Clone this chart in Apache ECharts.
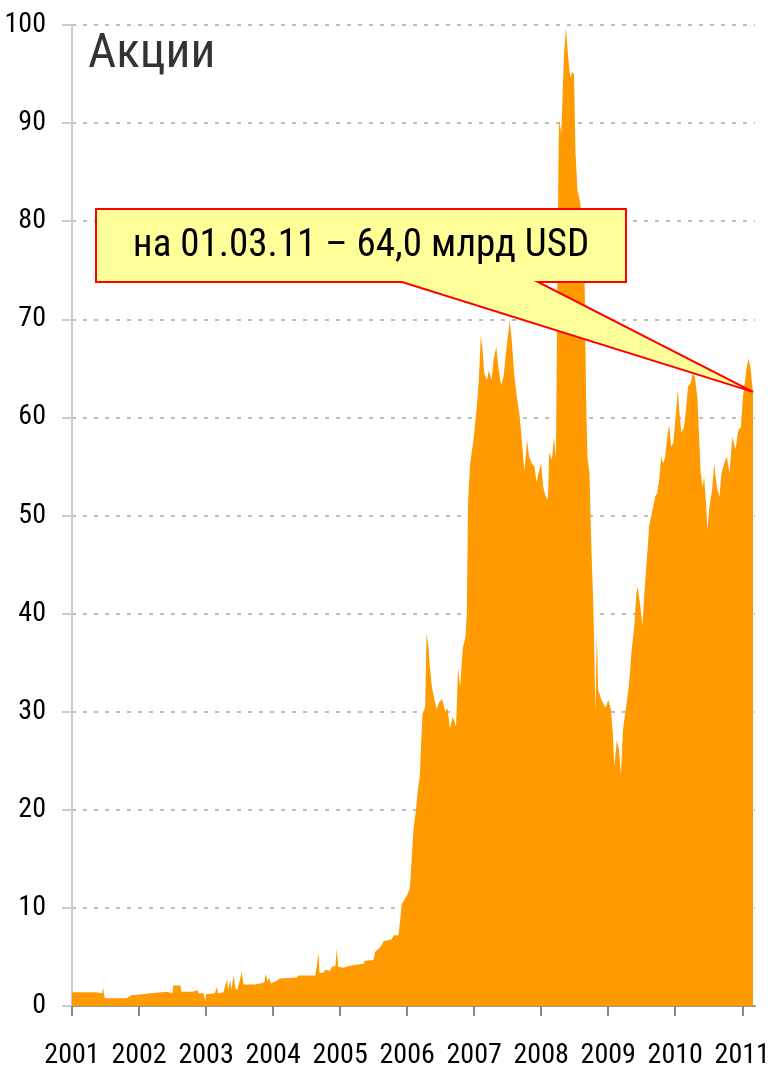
<!DOCTYPE html>
<html>
<head>
<meta charset="utf-8">
<script src="https://cdn.jsdelivr.net/npm/echarts@6/dist/echarts.min.js"></script>
<style>
  html, body { margin: 0; padding: 0; background: #fff; }
  #chart { width: 770px; height: 1071px; }
</style>
</head>
<body>
<div id="chart"></div>
<script>
// годы (дробные) и объём вложений в акции, млрд USD
const years = [
  2001.00, 2001.34, 2001.35, 2001.45, 2001.46, 2001.48, 2001.49, 2001.81, 2001.82, 2001.89,
  2001.91, 2002.19, 2002.20, 2002.41, 2002.42, 2002.50, 2002.51, 2002.62, 2002.63, 2002.80,
  2002.82, 2002.87, 2002.89, 2002.96, 2002.99, 2003.00, 2003.13, 2003.16, 2003.18, 2003.26,
  2003.31, 2003.33, 2003.36, 2003.38, 2003.41, 2003.44, 2003.47, 2003.51, 2003.53, 2003.56,
  2003.73, 2003.75, 2003.87, 2003.89, 2003.92, 2003.94, 2003.97, 2004.06, 2004.10, 2004.35,
  2004.38, 2004.63, 2004.65, 2004.68, 2004.69, 2004.75, 2004.78, 2004.85, 2004.88, 2004.93,
  2004.95, 2004.97, 2005.05, 2005.15, 2005.35, 2005.37, 2005.50, 2005.52, 2005.60, 2005.65,
  2005.77, 2005.80, 2005.87, 2005.90, 2005.92, 2006.00, 2006.04, 2006.06, 2006.08, 2006.10,
  2006.13, 2006.16, 2006.19, 2006.21, 2006.23, 2006.27, 2006.29, 2006.32, 2006.34, 2006.37,
  2006.42, 2006.44, 2006.48, 2006.52, 2006.57, 2006.60, 2006.64, 2006.68, 2006.73, 2006.76,
  2006.79, 2006.83, 2006.87, 2006.89, 2006.91, 2006.94, 2006.99, 2007.04, 2007.07, 2007.10,
  2007.13, 2007.15, 2007.19, 2007.22, 2007.26, 2007.29, 2007.33, 2007.36, 2007.40, 2007.44,
  2007.48, 2007.51, 2007.53, 2007.56, 2007.60, 2007.64, 2007.68, 2007.71, 2007.75, 2007.79,
  2007.82, 2007.86, 2007.90, 2007.93, 2007.96, 2008.00, 2008.03, 2008.07, 2008.10, 2008.12,
  2008.16, 2008.19, 2008.22, 2008.24, 2008.26, 2008.27, 2008.30, 2008.32, 2008.34, 2008.37,
  2008.39, 2008.42, 2008.44, 2008.46, 2008.49, 2008.51, 2008.54, 2008.58, 2008.64, 2008.67,
  2008.69, 2008.72, 2008.75, 2008.78, 2008.81, 2008.83, 2008.85, 2008.90, 2008.96, 2009.00,
  2009.04, 2009.07, 2009.09, 2009.13, 2009.16, 2009.19, 2009.22, 2009.26, 2009.31, 2009.35,
  2009.39, 2009.42, 2009.44, 2009.48, 2009.51, 2009.54, 2009.56, 2009.59, 2009.61, 2009.65,
  2009.70, 2009.73, 2009.76, 2009.79, 2009.82, 2009.85, 2009.88, 2009.91, 2009.94, 2009.97,
  2010.01, 2010.04, 2010.06, 2010.09, 2010.13, 2010.16, 2010.19, 2010.23, 2010.26, 2010.29,
  2010.33, 2010.36, 2010.38, 2010.41, 2010.43, 2010.46, 2010.48, 2010.51, 2010.55, 2010.58,
  2010.62, 2010.66, 2010.69, 2010.73, 2010.77, 2010.81, 2010.85, 2010.90, 2010.94, 2010.98,
  2011.01, 2011.03, 2011.06, 2011.09, 2011.12, 2011.16
];
const stocks = [
  1.4, 1.4, 1.3, 1.3, 1.9, 1.9, 0.8, 0.8, 1.0, 1.1,
  1.3, 1.3, 1.45, 1.45, 1.3, 1.3, 2.1, 2.1, 1.45, 1.45,
  1.3, 1.6, 1.3, 1.3, 0.5, 1.2, 1.3, 1.9, 1.3, 1.4,
  2.7, 1.6, 2.6, 1.7, 3.1, 1.7, 1.7, 2.8, 3.5, 2.2,
  2.2, 2.4, 2.4, 3.3, 2.5, 2.9, 2.3, 2.6, 2.8, 2.9,
  3.1, 3.1, 3.3, 5.4, 3.4, 3.4, 3.7, 3.6, 4.0, 4.1,
  5.9, 4.0, 3.9, 4.1, 4.3, 4.6, 4.7, 5.5, 6.0, 6.6,
  6.8, 7.2, 7.2, 9.0, 10.4, 11.3, 12.0, 14.0, 16.5, 18.3,
  19.9, 22.0, 23.5, 27.0, 29.8, 30.5, 38.0, 36.5, 34.5, 32.5,
  30.8, 30.3, 31.0, 31.3, 30.0, 30.4, 28.3, 29.5, 28.5, 34.5,
  32.5, 36.5, 37.6, 40.0, 51.6, 55.3, 57.7, 61.1, 63.8, 68.4,
  66.5, 64.5, 63.8, 64.8, 63.8, 65.9, 67.2, 65.2, 63.3, 64.2,
  66.9, 68.6, 69.9, 67.9, 64.2, 61.9, 60.1, 57.7, 54.5, 57.7,
  56.0, 55.3, 55.0, 53.4, 54.3, 55.3, 52.9, 51.9, 51.6, 56.4,
  55.7, 58.0, 55.9, 56.0, 88.0, 90.3, 89.0, 92.9, 97.0, 99.7,
  97.8, 95.4, 94.6, 95.2, 95.0, 87.3, 83.2, 82.0, 78.0, 62.0,
  56.0, 54.3, 46.5, 40.4, 29.9, 38.0, 32.2, 31.2, 30.4, 31.2,
  30.2, 27.8, 24.4, 27.1, 26.1, 23.5, 28.1, 30.2, 32.7, 36.3,
  38.7, 42.1, 42.7, 40.7, 38.7, 42.1, 44.1, 46.8, 48.9, 50.2,
  51.9, 52.3, 53.6, 56.0, 55.3, 56.0, 58.0, 59.2, 57.0, 57.4,
  60.4, 62.8, 60.8, 58.4, 59.0, 60.8, 63.1, 63.5, 64.5, 64.2,
  62.1, 57.4, 54.3, 52.9, 54.0, 51.2, 48.5, 50.9, 52.6, 55.3,
  52.9, 51.9, 54.3, 55.3, 56.0, 54.3, 58.0, 56.7, 58.7, 59.0,
  62.1, 63.1, 64.8, 66.0, 65.2, 62.6
];
const yearTicks = [2001, 2002, 2003, 2004, 2005, 2006, 2007, 2008, 2009, 2010, 2011];
const chartTitle = 'Акции';
const calloutText = 'на 01.03.11 – 64,0 млрд USD';

const FONT = "'Roboto Condensed', 'Liberation Sans', sans-serif";

const myChart = echarts.init(document.getElementById('chart'));

const option = {
  animation: false,
  backgroundColor: '#ffffff',
  grid: { left: 72, right: 15, top: 25, bottom: 65, outerBoundsMode: 'none' },
  xAxis: {
    type: 'value',
    min: 2001,
    max: 2011.19,
    splitLine: { show: false },
    axisLine: { lineStyle: { color: '#999', width: 2 } },
    axisTick: {
      customValues: yearTicks,
      length: 10,
      lineStyle: { color: '#888', width: 2 }
    },
    axisLabel: {
      customValues: yearTicks,
      margin: 36,
      fontFamily: FONT,
      fontSize: 28,
      color: '#000',
      formatter: v => String(v)
    }
  },
  yAxis: {
    type: 'value',
    min: 0,
    max: 100,
    interval: 10,
    axisLine: { show: true, lineStyle: { color: '#ccc', width: 2 } },
    axisTick: { show: true, length: 10, lineStyle: { color: '#ccc', width: 2 } },
    axisLabel: {
      margin: 26,
      fontFamily: FONT,
      fontSize: 28,
      color: '#000'
    },
    splitLine: {
      lineStyle: { color: '#bdbdbd', width: 2, type: [4, 7] }
    }
  },
  series: [
    {
      name: chartTitle,
      type: 'line',
      data: years.map((y, i) => [y, stocks[i]]),
      symbol: 'none',
      smooth: false,
      lineStyle: { width: 0 },
      areaStyle: { color: '#ff9a00', opacity: 1 },
      itemStyle: { color: '#ff9a00' }
    }
  ]
};

myChart.setOption(option);

// выноска с подписью к последней точке
const tip = myChart.convertToPixel({ gridIndex: 0 }, [years[years.length - 1], stocks[stocks.length - 1]]);
const box = { l: 96, t: 209, r: 626, b: 282 };

myChart.setOption({
  graphic: [
    {
      type: 'text',
      left: 88,
      top: 30,
      z: 10,
      style: {
        text: chartTitle,
        font: '49px ' + FONT,
        fill: '#333'
      }
    },
    {
      type: 'polygon',
      z: 20,
      shape: {
        points: [
          [box.l, box.t], [box.r, box.t], [box.r, box.b], [538, box.b],
          tip, [402, box.b], [box.l, box.b]
        ]
      },
      style: { fill: '#ffff99', stroke: '#ff0000', lineWidth: 2 }
    },
    {
      type: 'text',
      z: 21,
      x: (box.l + box.r) / 2,
      y: (box.t + box.b) / 2 + 1,
      style: {
        text: calloutText,
        font: '39px ' + FONT,
        fill: '#000',
        align: 'center',
        verticalAlign: 'middle'
      }
    }
  ]
});

window.addEventListener('resize', function () {
  myChart.resize()
});
</script>
</body>
</html>
